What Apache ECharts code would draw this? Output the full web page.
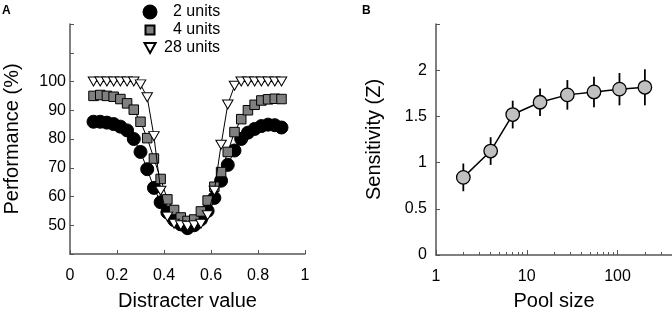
<!DOCTYPE html>
<html>
<head>
<meta charset="utf-8">
<script src="https://cdn.jsdelivr.net/npm/echarts@6/dist/echarts.min.js"></script>
<style>html,body{margin:0;padding:0;background:#fff}#c{width:672px;height:316px}</style>
</head>
<body>
<div id="c"></div>
<script>
// Panel A data
const distracter = [0.1000, 0.1286, 0.1571, 0.1857, 0.2143, 0.2429, 0.2714, 0.3000, 0.3286, 0.3571,
  0.3857, 0.4143, 0.4429, 0.4714, 0.5000, 0.5286, 0.5571, 0.5857, 0.6143, 0.6429,
  0.6714, 0.7000, 0.7286, 0.7571, 0.7857, 0.8143, 0.8429, 0.8714, 0.9000];
const perf2 = [86, 86, 85.7, 85.2, 84.3, 83, 80, 75.5, 69.5, 63, 58, 54.5, 51.8, 50.3, 49,
  50, 52, 55, 59.5, 65.5, 71, 76, 80, 82.2, 83.5, 84.5, 85, 84.8, 84];
const perf4 = [95, 95.3, 95, 94.7, 93.9, 92.4, 90.2, 86, 80.3, 73.2, 66.1, 59, 55.3, 52.7, 51.5,
  52, 54.8, 58.6, 63.4, 68.5, 75.5, 82.4, 86.9, 90, 91.9, 93.4, 93.8, 94, 93.9];
const perf28 = [100, 100, 100, 100, 100, 100, 100, 99, 94.5, 81, 62, 53, 50.5, 50, 49.7,
  50, 50.5, 53.5, 62, 78, 92, 98.5, 100, 100, 100, 100, 100, 100, 100];
const seriesNames = ['2 units', '4 units', '28 units'];
const yTicksA = [50, 60, 70, 80, 90, 100];

// Panel B data
const poolSize = [2, 4, 7, 14, 28, 55, 105, 200];
const sensitivity = [0.84, 1.125, 1.52, 1.653, 1.733, 1.765, 1.795, 1.815];
const sensErr = [0.15, 0.15, 0.15, 0.15, 0.16, 0.165, 0.175, 0.195];
const xLabelsB = [1, 10, 100];
const minorTicksB = [2, 3, 4, 5, 6, 7, 8, 9, 20, 30, 40, 50, 60, 70, 80, 90, 200, 300];

const FONT = 'Liberation Sans, Arial, sans-serif';
const axisLine = { show: true, lineStyle: { color: '#555', width: 1.5 } };
const tri = 'path://M0,0L10,0L5,9Z';
const sq = 'path://M0,0L10,0L10,10L0,10Z';

const pairs = (xs, ys) => xs.map((x, i) => [x, ys[i]]);

const chart = echarts.init(document.getElementById('c'), null, { renderer: 'canvas' });
chart.setOption({
  animation: false,
  backgroundColor: '#fff',
  textStyle: { fontFamily: FONT },
  title: [
    { text: 'A', left: 2, top: 5, padding: 0, textStyle: { fontFamily: FONT, fontSize: 12, fontWeight: 'bold', color: '#000' } },
    { text: 'B', left: 362, top: 5, padding: 0, textStyle: { fontFamily: FONT, fontSize: 12, fontWeight: 'bold', color: '#000' } }
  ],
  legend: [
    { data: [{ name: seriesNames[0], icon: 'circle' }], left: 142.5, top: 4, padding: 0, itemWidth: 36, itemHeight: 13,
      textStyle: { fontFamily: FONT, fontSize: 16, color: '#000' } },
    { data: [{ name: seriesNames[1], icon: sq }], left: 144.5, top: 22, padding: 0, itemWidth: 36, itemHeight: 9,
      textStyle: { fontFamily: FONT, fontSize: 16, color: '#000' } },
    { data: [{ name: seriesNames[2], icon: tri }], left: 143.5, top: 40, padding: 0, itemWidth: 18, itemHeight: 10,
      textStyle: { fontFamily: FONT, fontSize: 16, color: '#000' } }
  ],
  grid: [
    { left: 70, top: 24, width: 235, height: 233 },
    { left: 436, top: 24, width: 236, height: 234 }
  ],
  xAxis: [
    { type: 'value', gridIndex: 0, min: 0, max: 1, interval: 0.2,
      axisLine, splitLine: { show: false },
      axisTick: { inside: true, length: 4, lineStyle: { color: '#555' } },
      axisLabel: { fontSize: 16, color: '#000', margin: 14, fontFamily: FONT },
      name: 'Distracter value', nameLocation: 'middle', nameGap: 37,
      nameTextStyle: { fontSize: 20, color: '#000', fontFamily: FONT } },
    { type: 'log', gridIndex: 1, min: 1, max: 398, logBase: 10,
      axisLine, splitLine: { show: false },
      axisTick: { inside: true, length: 5, lineStyle: { color: '#555' }, customValues: xLabelsB },
      axisLabel: { fontSize: 16, color: '#000', margin: 14, fontFamily: FONT, customValues: xLabelsB,
        formatter: v => String(Math.round(v)) },
      name: 'Pool size', nameLocation: 'middle', nameGap: 36,
      nameTextStyle: { fontSize: 20, color: '#000', fontFamily: FONT } },
    { type: 'log', gridIndex: 1, min: 1, max: 398, logBase: 10, position: 'bottom',
      axisLine: { show: false }, splitLine: { show: false },
      axisTick: { inside: true, length: 3, lineStyle: { color: '#555' }, customValues: minorTicksB },
      axisLabel: { show: false } }
  ],
  yAxis: [
    { type: 'value', gridIndex: 0, min: 40, max: 120, interval: 10,
      axisLine, splitLine: { show: false },
      axisTick: { inside: true, length: 4, lineStyle: { color: '#555' } },
      axisLabel: { fontSize: 16, color: '#000', margin: 4, fontFamily: FONT,
        formatter: v => (yTicksA.indexOf(v) >= 0 ? String(v) : '') },
      name: 'Performance (%)', nameLocation: 'middle', nameGap: 48,
      nameTextStyle: { fontSize: 20, color: '#000', fontFamily: FONT } },
    { type: 'value', gridIndex: 1, min: 0, max: 2.5, interval: 0.5,
      axisLine, splitLine: { show: false },
      axisTick: { inside: true, length: 4, lineStyle: { color: '#555' } },
      axisLabel: { fontSize: 16, color: '#000', margin: 9, fontFamily: FONT,
        formatter: v => (v <= 2 ? String(v) : '') },
      name: 'Sensitivity (Z)', nameLocation: 'middle', nameGap: 52,
      nameTextStyle: { fontSize: 20, color: '#000', fontFamily: FONT } }
  ],
  series: [
    { name: seriesNames[0], type: 'line', xAxisIndex: 0, yAxisIndex: 0, data: pairs(distracter, perf2),
      symbol: 'circle', symbolSize: 13, z: 2,
      lineStyle: { color: '#000', width: 1 },
      itemStyle: { color: '#000', borderColor: '#000', borderWidth: 1 } },
    { name: seriesNames[1], type: 'line', xAxisIndex: 0, yAxisIndex: 0, data: pairs(distracter, perf4),
      symbol: 'rect', symbolSize: 9.5, z: 3,
      lineStyle: { color: '#000', width: 1 },
      itemStyle: { color: '#808080', borderColor: '#000', borderWidth: 1 } },
    { name: seriesNames[2], type: 'line', xAxisIndex: 0, yAxisIndex: 0, data: pairs(distracter, perf28),
      symbol: tri, symbolSize: [10.5, 9], z: 4,
      lineStyle: { color: '#000', width: 1 },
      itemStyle: { color: '#fff', borderColor: '#000', borderWidth: 1 } },
    { name: 'err', type: 'custom', xAxisIndex: 1, yAxisIndex: 1, z: 2,
      data: poolSize.map((x, i) => [x, sensitivity[i] - sensErr[i], sensitivity[i] + sensErr[i]]),
      renderItem: (params, api) => {
        const lo = api.coord([api.value(0), api.value(1)]);
        const hi = api.coord([api.value(0), api.value(2)]);
        return { type: 'line', shape: { x1: lo[0], y1: lo[1], x2: hi[0], y2: hi[1] },
          style: { stroke: '#000', lineWidth: 1.8 } };
      } },
    { name: 'sens', type: 'line', xAxisIndex: 1, yAxisIndex: 1, data: pairs(poolSize, sensitivity),
      symbol: 'circle', symbolSize: 13.5, z: 3,
      lineStyle: { color: '#000', width: 1.5 },
      itemStyle: { color: '#c0c0c0', borderColor: '#000', borderWidth: 1.3 } }
  ]
});
</script>
</body>
</html>
